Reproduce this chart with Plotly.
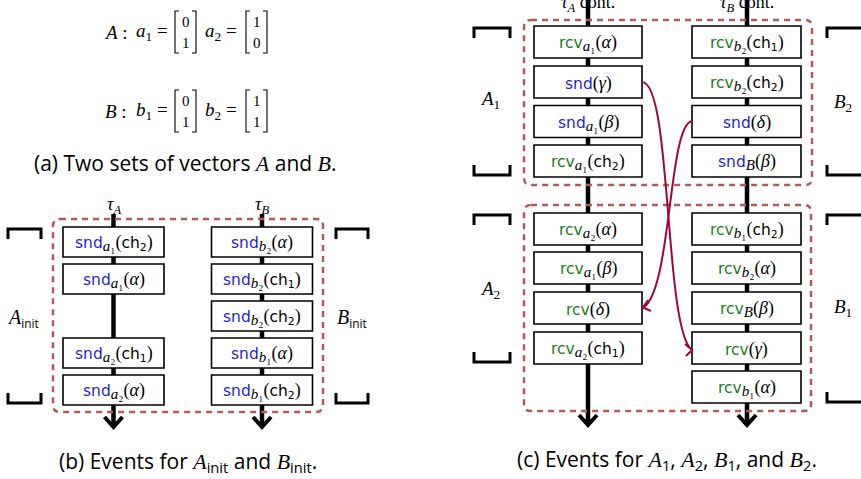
import plotly.graph_objects as go

# ---------------- data ----------------
vec_A_names = ["a1", "a2"]
vec_A_values = [[0, 1], [1, 0]]
vec_B_names = ["b1", "b2"]
vec_B_values = [[0, 1], [1, 1]]

# events: (kind, subscript, argument)
init_A_events = [("snd", "a1", "ch2"), ("snd", "a1", "α"), None, ("snd", "a2", "ch1"), ("snd", "a2", "α")]
init_B_events = [("snd", "b2", "α"), ("snd", "b2", "ch1"), ("snd", "b2", "ch2"), ("snd", "b1", "α"), ("snd", "b1", "ch2")]
A1_events = [("rcv", "a1", "α"), ("snd", "", "γ"), ("snd", "a1", "β"), ("rcv", "a1", "ch2")]
B2_events = [("rcv", "b2", "ch1"), ("rcv", "b2", "ch2"), ("snd", "", "δ"), ("snd", "B", "β")]
A2_events = [("rcv", "a2", "α"), ("rcv", "a1", "β"), ("rcv", "", "δ"), ("rcv", "a2", "ch1")]
B1_events = [("rcv", "b1", "ch2"), ("rcv", "b2", "α"), ("rcv", "B", "β"), ("rcv", "", "γ"), ("rcv", "b1", "α")]

SERIF = "Liberation Serif"

def serif(t, italic=True, size=None):
    st = f"font-family:{SERIF}" + (f";font-size:{size}px" if size else "")
    s = f"<span style='{st}'>{t}</span>"
    return f"<i>{s}</i>" if italic else s

captions = ["(a) Two sets of vectors " + serif("A", size=22) + " and " + serif("B", size=22) + ".",
            "(b) Events for " + serif("A", size=22) + "<sub>init</sub> and " + serif("B", size=22) + "<sub>init</sub>.",
            "(c) Events for " + serif("A", size=22) + "<sub>1</sub>, " + serif("A", size=22) + "<sub>2</sub>, "
            + serif("B", size=22) + "<sub>1</sub>, and " + serif("B", size=22) + "<sub>2</sub>."]

# ---------------- style ----------------
SANS = "DejaVu Sans"
CAP = "Open Sans"
BLUE = "#1f1fd6"
GREEN = "#1b7a1b"
DASH = "#b05a5a"
CRIMSON = "#a0073f"
SUBDIG = {"1": "₁", "2": "₂"}

def fmt_event(ev):
    kind, sub, arg = ev
    col = BLUE if kind == "snd" else GREEN
    txt = f"<span style='color:{col}'>{kind}</span>"
    if sub:
        if len(sub) == 2:
            txt += "<sub>" + serif(sub[0], size=15) + serif(SUBDIG[sub[1]], False, size=15) + "</sub>"
        else:
            txt += "<sub>" + serif(sub, size=15) + "</sub>"
    if arg.startswith("ch"):
        a = f"ch<sub>{arg[2]}</sub>"
    else:
        a = serif(arg, size=18)
    txt += serif("(", False, size=18) + a + serif(")", False, size=18)
    return txt

fig = go.Figure()
shapes = []
ann = []

def text(x, y, t, size=14, family=SANS, color="black", xanchor="center"):
    ann.append(dict(x=x, y=y, xref="x", yref="y", text=t, showarrow=False,
                    font=dict(size=size, family=family, color=color),
                    xanchor=xanchor, yanchor="middle"))

def line(x0, y0, x1, y1, w=1.5, color="black"):
    shapes.append(dict(type="line", x0=x0, y0=y0, x1=x1, y1=y1, xref="x", yref="y",
                       line=dict(color=color, width=w)))

def path(p, w=1.5, color="black", dash=None):
    shapes.append(dict(type="path", path=p, xref="x", yref="y",
                       line=dict(color=color, width=w, dash=dash) if dash else dict(color=color, width=w)))

def box(xc, yc, w, h, ev):
    shapes.append(dict(type="rect", x0=xc - w / 2, x1=xc + w / 2, y0=yc - h / 2, y1=yc + h / 2,
                       xref="x", yref="y", fillcolor="white", line=dict(color="black", width=1.6)))
    text(xc, yc + 1, fmt_event(ev), size=15.5)

def timeline(x, y0, y1):
    line(x, y0, x, y1 - 2, w=4.5)
    path(f"M {x-9} {y1-10} L {x} {y1} L {x+9} {y1-10}", w=4)

def rrect(x0, y0, x1, y1, r=7):
    p = (f"M {x0+r} {y0} L {x1-r} {y0} Q {x1} {y0} {x1} {y0+r} L {x1} {y1-r} "
         f"Q {x1} {y1} {x1-r} {y1} L {x0+r} {y1} Q {x0} {y1} {x0} {y1-r} L {x0} {y0+r} Q {x0} {y0} {x0+r} {y0} Z")
    path(p, w=2.5, color=DASH, dash="6px,5px")

def bracket(x0, x1, ytop, ybot, t=10):
    path(f"M {x0} {ytop+t} L {x0} {ytop} L {x1} {ytop} L {x1} {ytop+t}", w=3)
    path(f"M {x0} {ybot-t} L {x0} {ybot} L {x1} {ybot} L {x1} {ybot-t}", w=3)

def vbracket(x, ytop, ybot, side):
    d = 4 if side == "l" else -4
    path(f"M {x+d} {ytop} L {x} {ytop} L {x} {ybot} L {x+d} {ybot}", w=1.1)

# ---------------- panel (a) ----------------
def vec_row(yc, setname, names, vals):
    text(116, yc, serif(setname) + " :", size=19, family=SERIF)
    xs = [(152, 175, 196), (221, 246, 267)]
    for (xl, bl, br), nm, v in zip(xs, names, vals):
        text(xl, yc, serif(nm[0]) + f"<sub>{nm[1]}</sub> =", size=19, family=SERIF)
        vbracket(bl, yc - 21, yc + 21, "l")
        vbracket(br, yc - 21, yc + 21, "r")
        text((bl + br) / 2, yc - 10, str(v[0]), size=15, family=SERIF)
        text((bl + br) / 2, yc + 11, str(v[1]), size=15, family=SERIF)

vec_row(32, "A", vec_A_names, vec_A_values)
vec_row(111, "B", vec_B_names, vec_B_values)
text(185, 163, captions[0], size=21, family=CAP)

# ---------------- panel (b) ----------------
rows_b = [242, 279, 316, 353, 390]
timeline(113.5, 214, 427)
timeline(262, 214, 427)
rrect(53, 219, 323, 412)
for yc, ev in zip(rows_b, init_A_events):
    if ev:
        box(113.5, yc, 101, 30, ev)
for yc, ev in zip(rows_b, init_B_events):
    box(262, yc, 101, 30, ev)
text(113.5, 205, serif("τ") + "<sub>" + serif("A") + "</sub>", size=18, family=SERIF)
text(262, 205, serif("τ") + "<sub>" + serif("B") + "</sub>", size=18, family=SERIF)
bracket(8, 41, 229, 403)
bracket(336, 368, 229, 403)
text(23, 318, serif("A", size=20) + "<sub>init</sub>", size=17, family=CAP)
text(352, 318, serif("B", size=20) + "<sub>init</sub>", size=17, family=CAP)
text(188, 462, captions[1], size=21, family=CAP)

# ---------------- panel (c) ----------------
rows_top = [42, 82, 121.5, 161]
rows_bot = [229, 268, 308, 348, 387]
timeline(588, 0, 425)
timeline(747, 0, 425)
rrect(524, 20, 812, 185)
rrect(524, 205, 811, 411)
for yc, ev in zip(rows_top, A1_events):
    box(588, yc, 108, 32, ev)
for yc, ev in zip(rows_top, B2_events):
    box(746.5, yc, 109, 32, ev)
for yc, ev in zip(rows_bot, A2_events):
    box(588, yc, 108, 32, ev)
for yc, ev in zip(rows_bot, B1_events):
    box(746.5, yc, 109, 32, ev)
text(588, 3, serif("τ") + "<sub>" + serif("A") + "</sub> " + serif("cont.", False), size=18, family=SERIF)
text(747, 3, serif("τ") + "<sub>" + serif("B") + "</sub> " + serif("cont.", False), size=18, family=SERIF)
bracket(474, 510, 28, 175)
bracket(474, 510, 215, 362)
bracket(827, 875, 28, 175)
bracket(827, 875, 215, 402)
text(490, 100, serif("A") + "<sub>1</sub>", size=19, family=SERIF)
text(490, 290, serif("A") + "<sub>2</sub>", size=19, family=SERIF)
text(843, 103, serif("B") + "<sub>2</sub>", size=19, family=SERIF)
text(843, 308, serif("B") + "<sub>1</sub>", size=19, family=SERIF)
text(667, 460, captions[2], size=21, family=CAP)

# crossing message arrows
path("M 642 82 C 672 82, 664 330, 692 350", w=2, color=CRIMSON)
path("M 685 344 L 692 350 L 686 356", w=2, color=CRIMSON)
path("M 692 121 C 668 125, 672 290, 643 308", w=2, color=CRIMSON)
path("M 648 300 L 643 307.5 L 651 311", w=2, color=CRIMSON)

fig.update_layout(
    width=861, height=479, margin=dict(l=0, r=0, t=0, b=0),
    paper_bgcolor="white", plot_bgcolor="white",
    xaxis=dict(range=[0, 861], visible=False, fixedrange=True),
    yaxis=dict(range=[479, 0], visible=False, fixedrange=True),
    shapes=shapes, annotations=ann, showlegend=False,
)
fig.write_html("out.html", config={"displayModeBar": False},
               post_script="document.body.style.margin='0px';document.body.style.overflow='hidden';")
